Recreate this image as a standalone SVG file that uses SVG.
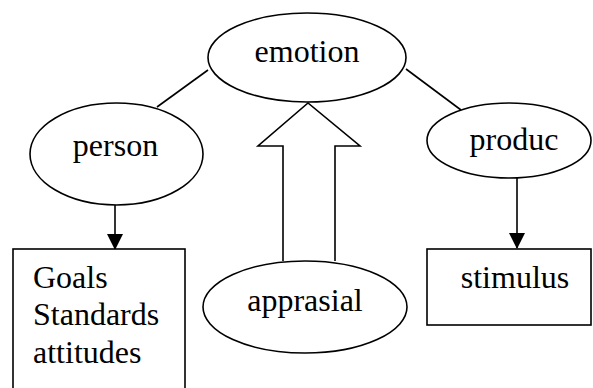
<svg xmlns="http://www.w3.org/2000/svg" width="593" height="388" viewBox="0 0 593 388">
<style>
.s{fill:#fff;stroke:#000;stroke-width:1.6}
.l{fill:none;stroke:#000;stroke-width:1.6}
text{font-family:"Liberation Serif","Times New Roman",serif;font-size:32px;fill:#000}
.c{text-anchor:middle}
</style>
<defs>
<marker id="ah" markerUnits="userSpaceOnUse" markerWidth="16" markerHeight="17" refX="15" refY="8" orient="auto">
<path d="M0,0 L16,8 L0,16 Z" fill="#000"/>
</marker>
</defs>
<g id="connectors">
<line class="l" x1="208" y1="70" x2="157" y2="107"/>
<line class="l" x1="406" y1="69" x2="461" y2="110"/>
<line class="l" x1="115" y1="205" x2="115" y2="249" marker-end="url(#ah)"/>
<line class="l" x1="517" y1="178" x2="517" y2="248" marker-end="url(#ah)"/>
<path class="s" d="M283,261 L283,146 L258,146 L308,103 L360,146 L335,146 L335,261"/>
</g>
<g id="emotion">
<ellipse class="s" cx="307" cy="57.5" rx="99" ry="44.5"/>
<text class="c" x="307" y="62">emotion</text>
</g>
<g id="person">
<ellipse class="s" cx="116.5" cy="154" rx="86.5" ry="51"/>
<text class="c" x="115.5" y="156">person</text>
</g>
<g id="produc">
<ellipse class="s" cx="509" cy="140.5" rx="82" ry="37.5"/>
<text class="c" x="514" y="150">produc</text>
</g>
<g id="goals">
<rect class="s" x="13" y="249" width="172" height="150"/>
<text x="33" y="288">Goals</text>
<text x="33" y="325">Standards</text>
<text x="33" y="363">attitudes</text>
</g>
<g id="apprasial">
<ellipse class="s" cx="305" cy="307" rx="102" ry="46"/>
<text class="c" x="305" y="311">apprasial</text>
</g>
<g id="stimulus">
<rect class="s" x="427" y="249" width="164" height="76"/>
<text class="c" x="515" y="288">stimulus</text>
</g>
</svg>
